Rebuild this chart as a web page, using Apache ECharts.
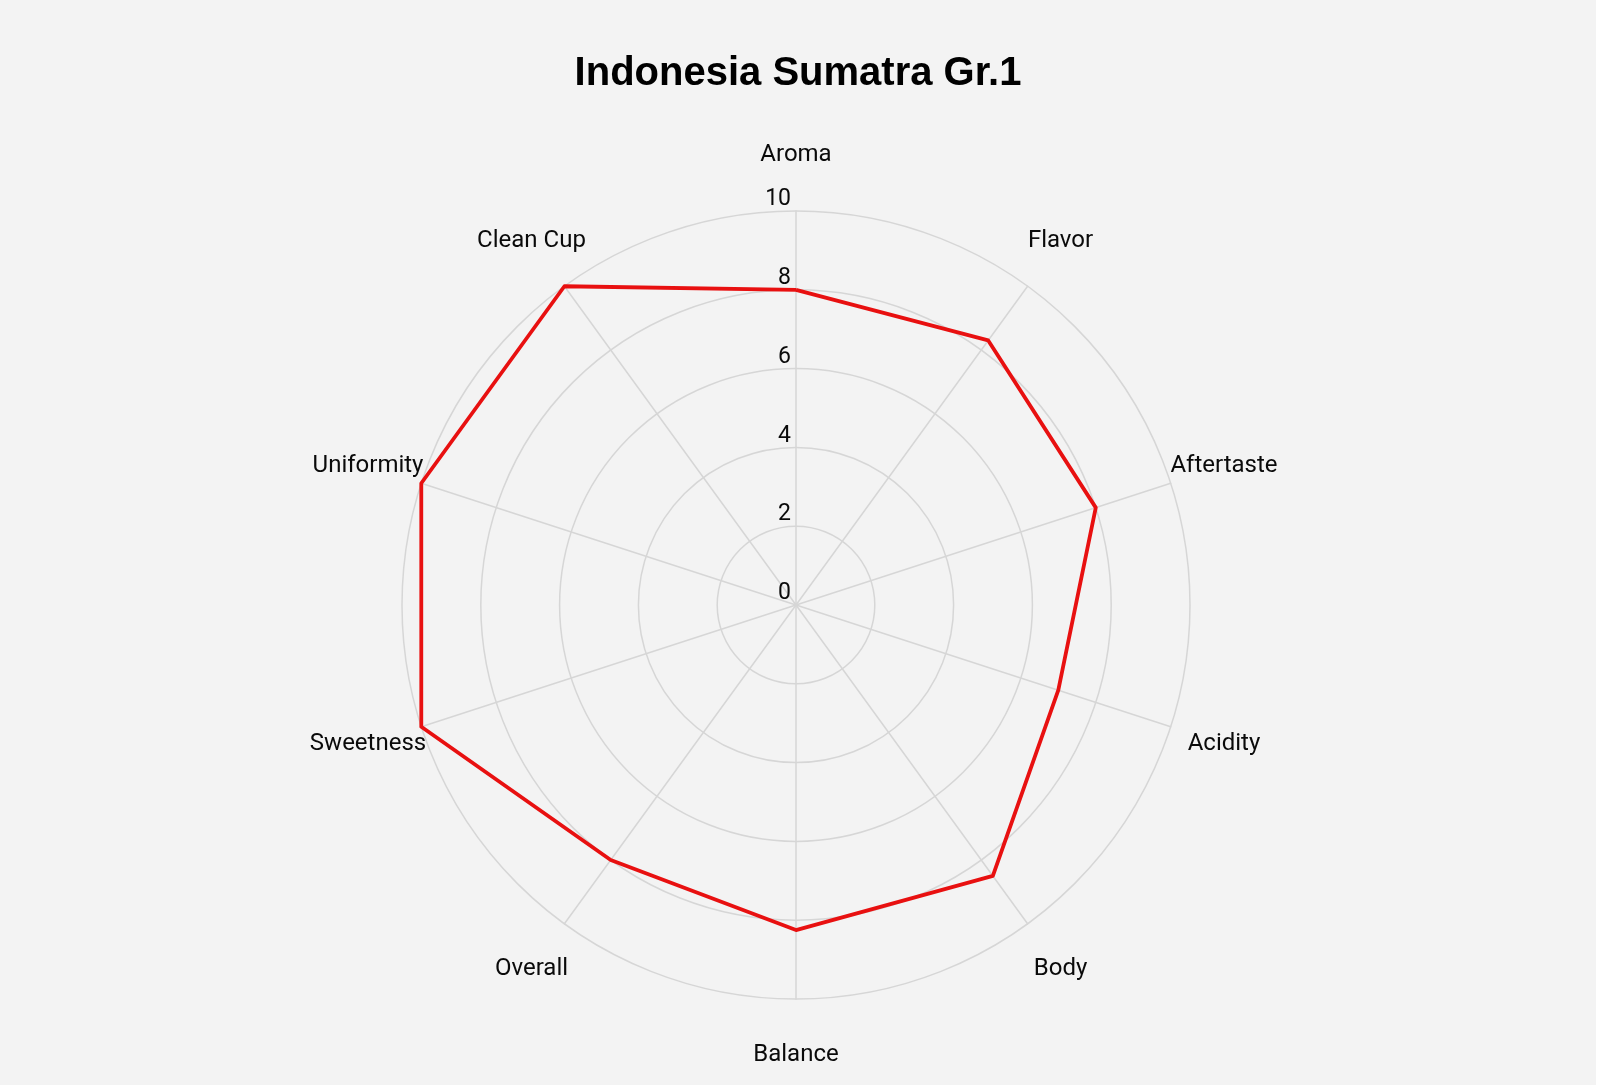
<!DOCTYPE html>
<html>
<head>
<meta charset="utf-8">
<script src="https://cdn.jsdelivr.net/npm/echarts@6/dist/echarts.min.js"></script>
<style>
html,body{margin:0;padding:0;background:#ffffff;}
#chart{width:1596px;height:1085px;background:#f3f3f3;}
</style>
</head>
<body>
<div id="chart"></div>
<script>
// Clockwise order starting at top
const categories = ['Aroma','Flavor','Aftertaste','Acidity','Body','Balance','Overall','Sweetness','Uniformity','Clean Cup'];
const scores = [8.0, 8.3, 8.0, 7.0, 8.5, 8.25, 8.0, 10, 10, 10];
const axisMin = 0;
const axisMax = 10;

// ECharts radar places indicators counter-clockwise; reorder so they read clockwise
function toCCW(arr){ return [arr[0]].concat(arr.slice(1).reverse()); }
const ccwCats = toCCW(categories);
const ccwVals = toCCW(scores);

const indicator = ccwCats.map(function(name, i){
  const o = {name: name, min: axisMin, max: axisMax};
  if (i === 0) o.axisLabel = {show: true};
  return o;
});

const chart = echarts.init(document.getElementById('chart'));
chart.setOption({
  backgroundColor: '#f3f3f3',
  title: {
    text: 'Indonesia Sumatra Gr.1',
    left: 'center',
    top: 49,
    padding: [5, 11, 5, 5],
    textStyle: {fontFamily: 'Liberation Sans', fontSize: 40, fontWeight: 'bold', color: '#000'}
  },
  radar: {
    center: [796, 605],
    radius: 394,
    shape: 'circle',
    startAngle: 90,
    splitNumber: 5,
    nameGap: 56,
    axisName: {
      color: '#0a0a0a', fontFamily: 'Roboto', fontSize: 24,
      align: 'center', verticalAlign: 'middle'
    },
    axisLine: {show: true, lineStyle: {color: '#d6d6d6', width: 1.5}},
    splitLine: {show: true, lineStyle: {color: '#d6d6d6', width: 1.5}},
    splitArea: {show: false},
    axisTick: {show: false},
    axisLabel: {show: false, color: '#0a0a0a', fontFamily: 'Roboto', fontSize: 23, margin: 5, verticalAlign: 'bottom', showMinLabel: true, showMaxLabel: true},
    indicator: indicator
  },
  series: [{
    type: 'radar',
    symbol: 'none',
    silent: true,
    lineStyle: {color: '#e81010', width: 3.8},
    data: [{value: ccwVals, name: 'Indonesia Sumatra Gr.1'}]
  }]
});
</script>
</body>
</html>
